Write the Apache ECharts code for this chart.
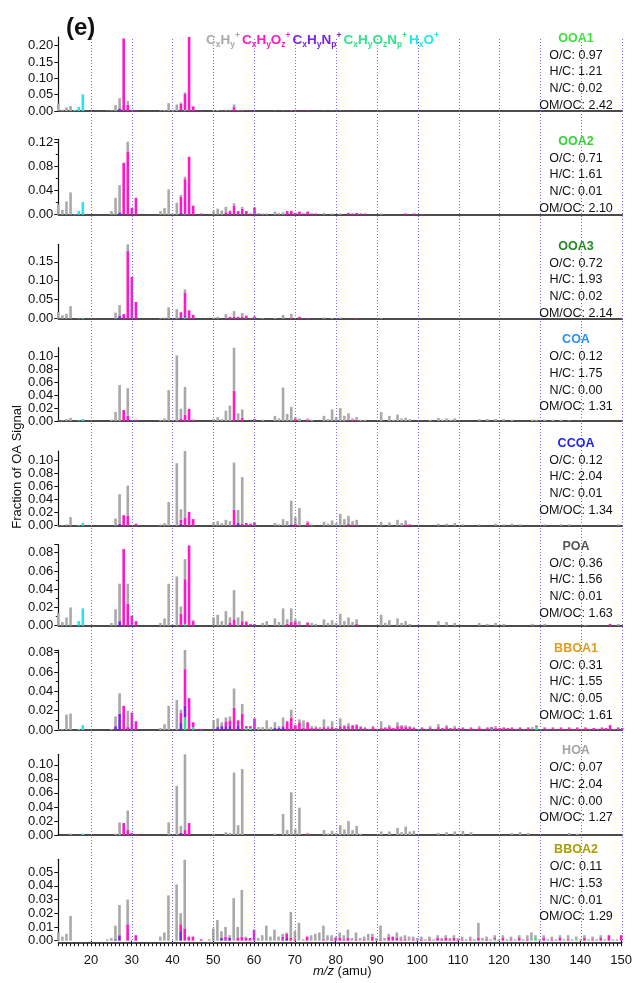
<!DOCTYPE html>
<html>
<head>
<meta charset="utf-8">
<script src="https://cdn.jsdelivr.net/npm/echarts@6/dist/echarts.min.js"></script>
<style>
html,body{margin:0;padding:0;background:#fff}
#chart{width:635px;height:983px}
</style>
</head>
<body>
<div id="chart"></div>
<script>
// ---- m/z axis ----
const mzStart = 12;
const mzEnd = 150;
const mzTickLabels = [20, 30, 40, 50, 60, 70, 80, 90, 100, 110, 120, 130, 140, 150];

// ---- factors and their elemental ratios ----
const factorNames = ['OOA1', 'OOA2', 'OOA3', 'COA', 'CCOA', 'POA', 'BBOA1', 'HOA', 'BBOA2'];
const ratioOC   = ['0.97', '0.71', '0.72', '0.12', '0.12', '0.36', '0.31', '0.07', '0.11'];
const ratioHC   = ['1.21', '1.61', '1.93', '1.75', '2.04', '1.56', '1.55', '2.04', '1.53'];
const ratioNC   = ['0.02', '0.01', '0.02', '0.00', '0.01', '0.01', '0.05', '0.00', '0.01'];
const ratioOMOC = ['2.42', '2.10', '2.14', '1.31', '1.34', '1.63', '1.61', '1.27', '1.29'];

// ---- y-axis extents and tick steps per factor ----
const yMax      = [0.2266, 0.125, 0.196, 0.114, 0.1137, 0.0888, 0.0828, 0.115, 0.0593];
const yInterval = [0.05, 0.04, 0.05, 0.02, 0.02, 0.02, 0.02, 0.02, 0.01];

// ---- mass spectra: [m/z, fraction] per ion family ----
// OOA1
const ooa1HO   = [[16,.003],[17,.012],[18,.051]];
const ooa1CHON = [[43,.003]];
const ooa1CHN  = [[27,.008],[42,.002]];
const ooa1CHO  = [[28,.222],[29,.019],[30,.002],[31,.002],[42,.021],[43,.049],[44,.227],[45,.014],[46,.001],[47,.001],[53,.001],[54,.002],[55,.012],[56,.002],[57,.002],[58,.001],[59,.001],[60,.002],[61,.001],[68,.001],[69,.001],[70,.001],[71,.001],[73,.002],[83,.001],[85,.001]];
const ooa1CH   = [[12,.023],[13,.004],[14,.011],[15,.015],[24,.001],[25,.002],[26,.018],[27,.031],[29,.012],[37,.002],[38,.004],[39,.024],[40,.002],[41,.020],[42,.003],[43,.005],[50,.002],[51,.003],[52,.001],[53,.003],[54,.002],[55,.008],[56,.001],[57,.002],[65,.001],[67,.001],[69,.001],[77,.001],[79,.001],[81,.001],[91,.001]];
// OOA2
const ooa2HO   = [[16,.001],[17,.006],[18,.021]];
const ooa2CHON = [[43,.001]];
const ooa2CHN  = [[27,.004],[28,.001],[42,.004]];
const ooa2CHO  = [[28,.085],[29,.105],[30,.011],[31,.028],[42,.026],[43,.058],[44,.096],[45,.015],[47,.002],[53,.004],[54,.006],[55,.015],[56,.006],[57,.010],[58,.006],[59,.002],[60,.012],[61,.002],[68,.006],[69,.006],[70,.003],[71,.005],[72,.002],[73,.005],[74,.002],[75,.002],[83,.003],[84,.002],[85,.003],[86,.002],[87,.002],[97,.002],[99,.002],[101,.001]];
const ooa2CH   = [[12,.017],[13,.008],[14,.022],[15,.037],[25,.006],[26,.028],[27,.045],[29,.016],[37,.006],[38,.011],[39,.042],[40,.002],[41,.020],[42,.003],[43,.004],[50,.006],[51,.010],[52,.007],[53,.009],[54,.001],[55,.004],[57,.003],[62,.002],[63,.002],[65,.005],[66,.003],[67,.004],[69,.001],[77,.003],[79,.002],[81,.002],[91,.002]];
// OOA3
const ooa3HO   = [[17,.001],[18,.002]];
const ooa3CHON = [[43,.003]];
const ooa3CHN  = [[27,.007],[42,.004],[43,.006]];
const ooa3CHO  = [[28,.012],[29,.178],[30,.110],[31,.044],[42,.013],[43,.059],[44,.022],[45,.010],[53,.002],[54,.005],[55,.005],[56,.005],[57,.006],[58,.008],[59,.002],[60,.006],[61,.001],[69,.003],[71,.005],[73,.002],[85,.002]];
const ooa3CH   = [[12,.018],[13,.009],[14,.013],[15,.033],[26,.016],[27,.029],[29,.018],[37,.002],[38,.003],[39,.030],[41,.025],[42,.001],[43,.009],[50,.003],[51,.005],[53,.010],[55,.015],[57,.009],[62,.002],[65,.002],[67,.010],[69,.010],[77,.003],[79,.002],[81,.003],[91,.002]];
// COA
const coaHO    = [[17,.001],[18,.003]];
const coaCHON  = [];
const coaCHN   = [];
const coaCHO   = [[28,.017],[29,.008],[31,.002],[42,.004],[43,.010],[44,.019],[45,.002],[55,.047],[56,.002],[57,.005],[60,.003],[70,.003],[73,.002],[83,.002],[84,.002],[85,.002]];
const coaCH    = [[12,.001],[13,.001],[14,.003],[15,.005],[25,.002],[26,.014],[27,.056],[29,.043],[37,.002],[38,.004],[39,.048],[40,.001],[41,.102],[42,.015],[43,.043],[50,.003],[51,.006],[52,.003],[53,.016],[54,.024],[55,.067],[56,.010],[57,.013],[62,.002],[65,.008],[66,.004],[67,.052],[68,.011],[69,.022],[70,.003],[71,.004],[73,.002],[74,.002],[77,.008],[78,.003],[79,.018],[80,.006],[81,.020],[82,.008],[83,.010],[84,.002],[85,.004],[86,.002],[87,.002],[91,.014],[93,.008],[94,.002],[95,.010],[96,.004],[97,.005],[98,.003],[103,.002],[105,.005],[106,.002],[107,.004],[108,.002],[109,.004],[115,.003],[117,.003],[119,.003],[121,.003],[123,.002],[128,.002],[129,.002],[131,.002],[133,.002],[135,.002],[137,.001]];
// CCOA
const ccoaHO   = [[17,.001],[18,.004]];
const ccoaCHON = [];
const ccoaCHN  = [[27,.003],[42,.003],[56,.004],[69,.002]];
const ccoaCHO  = [[28,.016],[29,.015],[31,.003],[42,.006],[43,.012],[44,.021],[45,.010],[55,.024],[57,.003],[58,.004],[59,.003],[60,.005],[70,.003],[73,.005],[83,.003],[84,.002],[85,.002],[97,.002],[98,.002]];
const ccoaCH   = [[12,.001],[13,.001],[14,.002],[15,.013],[26,.011],[27,.045],[29,.046],[37,.002],[38,.004],[39,.036],[41,.095],[42,.016],[43,.102],[50,.005],[51,.007],[52,.004],[53,.009],[54,.007],[55,.072],[56,.020],[57,.071],[65,.004],[66,.002],[67,.010],[68,.007],[69,.036],[70,.010],[71,.027],[73,.002],[74,.002],[77,.006],[78,.003],[79,.008],[80,.004],[81,.018],[82,.010],[83,.012],[84,.005],[85,.007],[91,.006],[93,.005],[95,.009],[96,.004],[97,.006],[105,.003],[107,.003],[109,.004],[111,.002],[115,.002],[119,.003],[121,.002],[123,.003],[125,.002],[131,.002],[135,.002],[137,.002],[149,.002]];
// POA
const poaHO    = [[17,.005],[18,.019]];
const poaCHON  = [[43,.002]];
const poaCHN   = [[27,.005]];
const poaCHO   = [[28,.084],[29,.024],[30,.011],[31,.005],[42,.013],[43,.049],[44,.088],[45,.005],[54,.003],[55,.007],[57,.005],[58,.004],[59,.002],[60,.002],[68,.002],[69,.004],[70,.004],[71,.001],[73,.003],[85,.002],[147,.002]];
const poaCH    = [[12,.014],[13,.004],[14,.009],[15,.020],[25,.003],[26,.018],[27,.041],[29,.022],[37,.003],[38,.008],[39,.046],[41,.054],[42,.008],[43,.022],[45,.001],[50,.009],[51,.012],[52,.005],[53,.016],[54,.006],[55,.032],[56,.009],[57,.011],[58,.001],[62,.003],[63,.005],[65,.008],[66,.004],[67,.019],[68,.005],[69,.015],[70,.003],[71,.004],[73,.001],[74,.003],[75,.002],[77,.007],[78,.003],[79,.006],[80,.003],[81,.013],[82,.005],[83,.009],[84,.004],[85,.005],[91,.012],[92,.003],[93,.006],[95,.008],[96,.003],[97,.005],[98,.002],[105,.005],[107,.004],[109,.003],[115,.003],[117,.002],[119,.003],[121,.002],[128,.002],[131,.002],[141,.001],[149,.002]];
// BBOA1
const bboa1HO   = [[17,.001],[18,.005]];
const bboa1CHON = [[43,.013],[45,.003],[58,.002],[59,.002],[118,.001],[129,.003]];
const bboa1CHN  = [[26,.004],[27,.017],[42,.008],[43,.012],[50,.001],[51,.003],[52,.004],[53,.004],[54,.005],[56,.005],[65,.002],[66,.002],[67,.003]];
const bboa1CHO  = [[28,.025],[29,.003],[30,.018],[31,.009],[42,.010],[43,.038],[44,.033],[45,.005],[46,.001],[47,.001],[53,.005],[54,.005],[55,.023],[56,.005],[57,.017],[58,.002],[59,.002],[60,.012],[67,.001],[68,.009],[69,.013],[70,.005],[71,.008],[72,.002],[73,.008],[74,.002],[75,.002],[76,.001],[77,.003],[78,.002],[79,.003],[80,.002],[81,.004],[82,.004],[83,.004],[84,.005],[85,.005],[86,.003],[87,.002],[88,.001],[89,.003],[90,.001],[91,.002],[92,.002],[93,.003],[94,.002],[95,.004],[96,.004],[97,.003],[98,.003],[99,.002],[100,.001],[101,.002],[102,.001],[103,.002],[104,.001],[105,.003],[106,.002],[107,.003],[108,.002],[109,.002],[110,.002],[111,.002],[112,.001],[113,.002],[114,.001],[115,.002],[116,.001],[117,.002],[118,.002],[119,.002],[120,.002],[121,.002],[122,.002],[123,.002],[124,.001],[125,.002],[126,.001],[127,.002],[128,.001],[129,.001],[130,.001],[131,.002],[132,.001],[133,.002],[134,.001],[135,.002],[136,.001],[137,.002],[138,.001],[139,.002],[140,.001],[141,.002],[142,.001],[143,.002],[144,.001],[145,.002],[146,.002],[147,.005],[148,.001],[149,.002],[150,.002]];
const bboa1CH   = [[12,.001],[13,.001],[14,.016],[15,.017],[25,.001],[26,.010],[27,.021],[29,.017],[37,.002],[38,.006],[39,.025],[41,.031],[42,.003],[43,.020],[50,.009],[51,.009],[52,.004],[53,.004],[54,.004],[55,.020],[57,.010],[61,.003],[62,.003],[63,.010],[64,.003],[65,.006],[66,.002],[67,.009],[69,.008],[71,.003],[72,.008],[74,.002],[75,.002],[76,.002],[77,.008],[78,.002],[79,.006],[81,.008],[82,.001],[83,.003],[85,.001],[86,.001],[87,.001],[89,.001],[91,.007],[92,.001],[93,.002],[95,.004],[96,.001],[97,.002],[98,.001],[99,.001],[101,.001],[103,.002],[105,.003],[107,.002],[109,.002],[111,.001],[113,.001],[115,.002],[117,.001],[119,.002],[121,.001],[123,.001],[125,.001],[127,.001],[128,.002],[129,.001],[131,.001],[133,.001],[135,.001],[137,.001],[139,.001],[141,.001],[145,.001],[149,.001]];
// HOA
const hoaHO    = [[18,.002]];
const hoaCHON  = [];
const hoaCHN   = [[42,.003]];
const hoaCHO   = [[28,.017],[29,.007],[30,.003],[31,.001],[43,.007],[44,.017],[73,.001]];
const hoaCH    = [[15,.002],[26,.002],[27,.018],[29,.028],[39,.018],[41,.070],[42,.010],[43,.108],[50,.002],[53,.004],[54,.003],[55,.089],[56,.014],[57,.094],[65,.002],[67,.030],[68,.007],[69,.061],[70,.008],[71,.039],[73,.002],[77,.007],[78,.002],[79,.006],[80,.003],[81,.014],[82,.008],[83,.020],[84,.007],[85,.013],[86,.002],[91,.005],[93,.005],[95,.010],[96,.004],[97,.012],[98,.005],[99,.006],[105,.003],[107,.004],[109,.005],[111,.006],[113,.004],[123,.003],[125,.004],[127,.003],[137,.003],[139,.002]];
// BBOA2
const bboa2HO   = [];
const bboa2CHON = [[119,.001],[129,.002],[139,.001]];
const bboa2CHN  = [[26,.001],[27,.004],[42,.007],[52,.002],[53,.001],[54,.002],[67,.001],[68,.002]];
const bboa2CHO  = [[29,.012],[31,.004],[42,.005],[43,.009],[44,.003],[45,.003],[47,.001],[53,.002],[56,.002],[57,.003],[58,.002],[59,.002],[60,.008],[67,.002],[68,.003],[69,.002],[70,.001],[73,.003],[77,.001],[79,.001],[80,.002],[81,.002],[82,.001],[83,.002],[85,.001],[87,.001],[89,.003],[91,.001],[93,.003],[94,.003],[95,.002],[96,.001],[97,.001],[99,.001],[101,.001],[103,.001],[105,.002],[106,.001],[107,.002],[108,.001],[109,.002],[110,.001],[111,.001],[113,.001],[115,.002],[117,.001],[119,.001],[121,.002],[123,.001],[125,.002],[127,.001],[131,.002],[133,.001],[135,.002],[137,.001],[141,.002],[143,.001],[145,.002],[147,.004],[150,.004]];
const bboa2CH   = [[12,.006],[13,.003],[14,.005],[15,.018],[24,.001],[25,.002],[26,.010],[27,.022],[29,.018],[37,.003],[38,.006],[39,.033],[41,.041],[42,.008],[43,.050],[49,.001],[50,.009],[51,.015],[52,.005],[53,.007],[54,.002],[55,.031],[56,.008],[57,.034],[58,.001],[61,.002],[62,.004],[63,.011],[64,.003],[65,.008],[66,.003],[67,.002],[68,.001],[69,.019],[70,.006],[71,.013],[72,.001],[74,.004],[75,.005],[76,.006],[77,.010],[78,.004],[79,.003],[80,.001],[81,.004],[82,.003],[83,.006],[84,.002],[85,.005],[86,.002],[87,.002],[88,.005],[89,.002],[90,.002],[91,.010],[92,.002],[93,.002],[95,.004],[96,.002],[97,.003],[98,.003],[99,.002],[100,.002],[101,.002],[102,.001],[103,.002],[104,.001],[105,.002],[106,.001],[107,.002],[108,.001],[109,.002],[110,.001],[111,.002],[112,.001],[113,.002],[114,.001],[115,.011],[116,.002],[117,.002],[118,.001],[119,.002],[120,.001],[121,.002],[122,.001],[123,.002],[124,.001],[125,.002],[126,.001],[127,.003],[128,.006],[129,.002],[130,.001],[131,.002],[132,.001],[133,.002],[134,.001],[135,.002],[136,.001],[137,.003],[138,.001],[139,.002],[140,.001],[141,.002],[142,.001],[143,.002],[144,.001],[145,.002],[146,.001],[148,.001],[149,.001]];

// spectra grouped by factor, families stacked bottom to top
const spectra = [
  [ooa1HO, ooa1CHON, ooa1CHN, ooa1CHO, ooa1CH],
  [ooa2HO, ooa2CHON, ooa2CHN, ooa2CHO, ooa2CH],
  [ooa3HO, ooa3CHON, ooa3CHN, ooa3CHO, ooa3CH],
  [coaHO, coaCHON, coaCHN, coaCHO, coaCH],
  [ccoaHO, ccoaCHON, ccoaCHN, ccoaCHO, ccoaCH],
  [poaHO, poaCHON, poaCHN, poaCHO, poaCH],
  [bboa1HO, bboa1CHON, bboa1CHN, bboa1CHO, bboa1CH],
  [hoaHO, hoaCHON, hoaCHN, hoaCHO, hoaCH],
  [bboa2HO, bboa2CHON, bboa2CHN, bboa2CHO, bboa2CH]
];

// ---- styling ----
const FONT = '"Liberation Sans", Arial, Helvetica, sans-serif';
const familyColors = ['#22e5f0', '#2fe38a', '#7b22e6', '#ff17c9', '#a9a9a9'];
const factorColors = ['#3fe23f', '#36d336', '#1f8c1f', '#2a8ff0', '#1f1fff', '#555555', '#e39b1d', '#a3a3a3', '#a8a000'];
const panelTop    = [37, 139.3, 244.3, 347.7, 451, 544.7, 650, 754.3, 859.3];
const panelHeight = [74, 75.4, 74.4, 73.3, 74.7, 81, 80, 80.7, 81.4];
const nameY       = [38.5, 141.5, 246.5, 340, 443.5, 546.5, 648.3, 751, 850];
const minorSplit  = [0, 2, 0, 0, 0, 2, 2, 0, 0];
const PLOT_LEFT = 58.3, PLOT_RIGHT = 12.7;

// every integer m/z position (category slots of the x axes)
const mzAll = [];
for (let m = mzStart; m <= mzEnd; m++) mzAll.push(String(m));

function toSeriesData(list) {
  const lookup = new Map(list.map(p => [p[0], p[1]]));
  return mzAll.map(m => lookup.get(Number(m)) || 0);
}
const isDecade = (idx, v) => Number(v) % 10 === 0;

const grid = [], xAxis = [], yAxis = [], series = [];
const nPanels = factorNames.length;

for (let i = 0; i < nPanels; i++) {
  const last = i === nPanels - 1;
  grid.push({left: PLOT_LEFT, right: PLOT_RIGHT, top: panelTop[i], height: panelHeight[i]});
  xAxis.push({
    type: 'category', gridIndex: i, data: mzAll, boundaryGap: false,
    offset: last ? 2.5 : 0,
    axisLine: {show: true, onZero: false, lineStyle: {color: '#111', width: 1.5}},
    axisTick: last ? {show: true, interval: 0, length: 3, inside: false, lineStyle: {color: '#111', width: 1}} : {show: false},
    axisLabel: {show: false},
    splitLine: {show: false}
  });
  yAxis.push({
    type: 'value', gridIndex: i, min: 0, max: yMax[i], interval: yInterval[i],
    axisLine: {show: true, lineStyle: {color: '#111', width: 1.2}},
    axisTick: {show: true, length: 4, inside: false, lineStyle: {color: '#111'}},
    minorTick: {show: minorSplit[i] > 0, splitNumber: minorSplit[i] || 5, length: 2.5, lineStyle: {color: '#111'}},
    axisLabel: {show: true, showMaxLabel: false, fontFamily: FONT, fontSize: 13, color: '#111', margin: 5,
      formatter: v => v.toFixed(2)},
    splitLine: {show: false}
  });
  spectra[i].forEach((fam, k) => {
    series.push({
      type: 'bar', xAxisIndex: i, yAxisIndex: i, stack: 'p' + i,
      barWidth: 2.6, silent: true, z: 3,
      itemStyle: {color: familyColors[k]},
      data: toSeriesData(fam)
    });
  });
}

// full-height overlay carrying the dotted vertical guides
grid.push({left: PLOT_LEFT, right: PLOT_RIGHT, top: 37, bottom: 983 - 943});
xAxis.push({type: 'category', gridIndex: nPanels, data: mzAll, boundaryGap: false, show: false});
yAxis.push({type: 'value', gridIndex: nPanels, min: 0, max: 1, show: false});
series.push({
  type: 'line', xAxisIndex: nPanels, yAxisIndex: nPanels, data: [], silent: true, z: 1,
  markLine: {
    silent: true, symbol: ['none', 'none'], label: {show: false}, animation: false,
    lineStyle: {type: [1, 2], color: '#6f6fff', width: 1},
    data: mzTickLabels.map(v => ({xAxis: String(v)}))
  }
});

// labelled decade ticks under the bottom spectrum
xAxis.push({
  type: 'category', gridIndex: nPanels - 1, data: mzAll, boundaryGap: false, position: 'bottom', offset: 2.5,
  axisLine: {show: false},
  axisTick: {show: true, interval: isDecade, length: 5, inside: false, lineStyle: {color: '#111', width: 1}},
  axisLabel: {show: true, interval: isDecade, fontFamily: FONT, fontSize: 13, color: '#111', margin: 11},
  splitLine: {show: false}
});

// ---- text: panel tag, ion legend, factor names and ratios, axis titles ----
const graphic = [];
function txt(x, y, text, opts) {
  graphic.push({
    type: 'text', x: x, y: y, z: 10, silent: true,
    style: Object.assign({text: text, fill: '#111', font: '13px ' + FONT,
      textAlign: 'center', textVerticalAlign: 'middle', align: 'center', verticalAlign: 'middle'}, opts || {})
  });
}

graphic.push({type: 'text', left: 66, top: 16, z: 10, silent: true,
  style: {text: '(e)', fill: '#111', font: 'bold 24px ' + FONT}});

// ion-family legend with sub/superscripts
const legendParts = [
  {c: 'g', seq: [['C','m'],['x','s'],['H','m'],['y','s'],['+','p']]},
  {c: 'm', seq: [['C','m'],['x','s'],['H','m'],['y','s'],['O','m'],['z','s'],['+','p']]},
  {c: 'v', seq: [['C','m'],['x','s'],['H','m'],['y','s'],['N','m'],['p','s'],['+','p']]},
  {c: 'n', seq: [['C','m'],['x','s'],['H','m'],['y','s'],['O','m'],['z','s'],['N','m'],['p','s'],['+','p']]},
  {c: 'c', seq: [['H','m'],['x','s'],['O','m'],['+','p']]}
];
const legendColor = {g: familyColors[4], m: familyColors[3], v: familyColors[2], n: familyColors[1], c: familyColors[0]};
const rich = {sp: {fontSize: 13, lineHeight: 18, width: 2}};
Object.keys(legendColor).forEach(c => {
  rich[c + 'm'] = {fontSize: 13.5, fontWeight: 'bold', fontFamily: FONT, fill: legendColor[c], color: legendColor[c], lineHeight: 18};
  rich[c + 's'] = {fontSize: 8.5, fontWeight: 'bold', fontFamily: FONT, fill: legendColor[c], color: legendColor[c], lineHeight: 10, verticalAlign: 'bottom'};
  rich[c + 'p'] = {fontSize: 8.5, fontWeight: 'bold', fontFamily: FONT, fill: legendColor[c], color: legendColor[c], lineHeight: 10, verticalAlign: 'top'};
});
const legendText = legendParts.map(part =>
  part.seq.map(t => '{' + part.c + t[1] + '|' + t[0] + '}').join('')).join('{sp| }');
graphic.push({type: 'text', left: 206, top: 31, z: 10, silent: true,
  style: {text: legendText, rich: rich, font: 'bold 13.5px ' + FONT}});

for (let i = 0; i < nPanels; i++) {
  const cx = 576, y0 = nameY[i];
  txt(cx, y0, factorNames[i], {fill: factorColors[i], font: 'bold 12.5px ' + FONT});
  txt(cx, y0 + 16.8, 'O/C: ' + ratioOC[i], {font: '12.5px ' + FONT});
  txt(cx, y0 + 33.5, 'H/C: ' + ratioHC[i], {font: '12.5px ' + FONT});
  txt(cx, y0 + 50.2, 'N/C: ' + ratioNC[i], {font: '12.5px ' + FONT});
  txt(cx, y0 + 66.9, 'OM/OC: ' + ratioOMOC[i], {font: '12.5px ' + FONT});
}

graphic.push({type: 'text', x: 17, y: 467, rotation: Math.PI / 2, z: 10, silent: true,
  style: {text: 'Fraction of OA Signal', fill: '#111', font: '13px ' + FONT,
    textAlign: 'center', textVerticalAlign: 'middle', align: 'center', verticalAlign: 'middle'}});

graphic.push({type: 'text', left: 313, top: 965, z: 10, silent: true,
  style: {text: '{i|m/z}{n| (amu)}', font: '13px ' + FONT, rich: {
    i: {fontSize: 13, fontStyle: 'italic', fontFamily: FONT, fill: '#111'},
    n: {fontSize: 13, fontFamily: FONT, fill: '#111'}}}});

const chart = echarts.init(document.getElementById('chart'), null, {renderer: 'canvas'});
chart.setOption({
  animation: false,
  backgroundColor: '#ffffff',
  grid: grid, xAxis: xAxis, yAxis: yAxis, series: series, graphic: graphic
});
</script>
</body>
</html>
